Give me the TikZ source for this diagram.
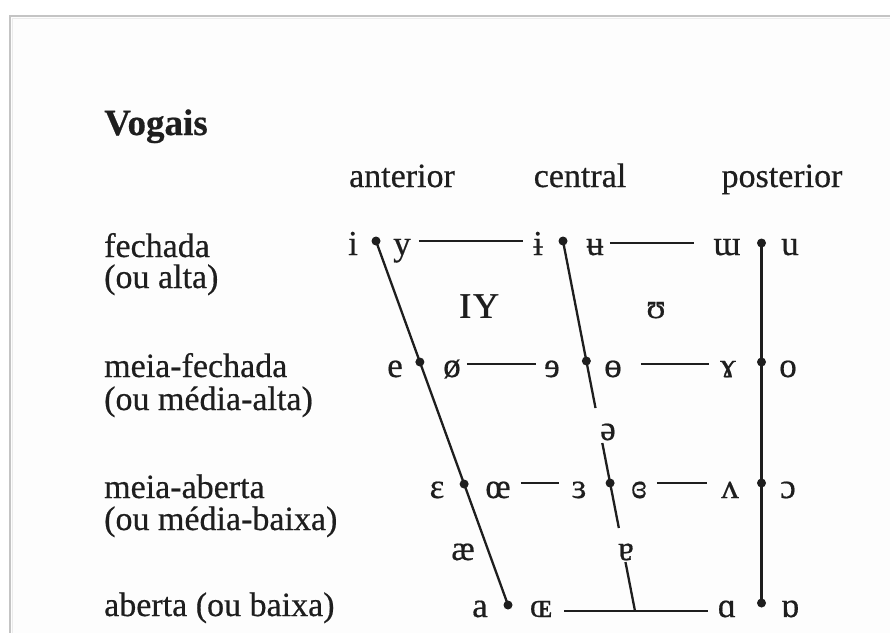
\documentclass[tikz,border=0pt]{standalone}
\usepackage{fontspec}
\setmainfont{Liberation Serif}[FakeBold=0.5]
\newfontfamily\ipalight{Liberation Serif}
\usetikzlibrary{calc}
\definecolor{ink}{HTML}{1E1E1E}
\definecolor{framegray}{HTML}{C4C4C4}
\definecolor{paper}{HTML}{FDFDFD}
\begin{document}
\begin{tikzpicture}[x=1pt,y=-1pt,
  lbl/.style={font=\fontsize{34}{34}\selectfont, text=ink, anchor=base west, inner sep=0pt},
  hdr/.style={font=\fontsize{34}{34}\selectfont, text=ink, anchor=base, inner sep=0pt},
  v/.style={font=\fontsize{35}{35}\selectfont, text=ink, anchor=base, inner xsep=0pt, inner ysep=0pt},
  dot/.style={circle, fill=ink, inner sep=0pt, minimum size=9pt},
  ln/.style={draw=ink, line width=2.3pt},
  hl/.style={draw=ink, line width=2.2pt},
]
\useasboundingbox (0,0) rectangle (890,632);
\begin{scope}
\clip (0,0) rectangle (890,632);
\fill[white] (0,0) rectangle (890,632);
\fill[paper] (10,16) rectangle (900,650);
\draw[black!8, line width=1.5pt] (12.5,650) -- (12.5,18.5) -- (900,18.5);
\draw[framegray, line width=2pt] (10,650) -- (10,16) -- (900,16);
\end{scope}

% title and headers
\node[lbl, font=\fontsize{37}{37}\selectfont\bfseries] (title) at (104,135) {Vogais};
\node[hdr] (hant) at (402,187) {anterior};
\node[hdr] (hcen) at (580,187) {central};
\node[hdr] (hpos) at (782,187) {posterior};

% row labels
\node[lbl] (r1a) at (104,257) {fechada};
\node[lbl] (r1b) at (104,288) {(ou alta)};
\node[lbl] (r2a) at (104,377) {meia-fechada};
\node[lbl] (r2b) at (104,410) {(ou média-alta)};
\node[lbl] (r3a) at (104,498) {meia-aberta};
\node[lbl] (r3b) at (104,530) {(ou média-baixa)};
\node[lbl] (r4a) at (104,616) {aberta (ou baixa)};

% dots
\node[dot] (L1) at (376,241) {};
\node[dot] (L4) at (508,605) {};
\node[dot] (L2) at ($(L1)!0.3324!(L4)$) {};
\node[dot] (L3) at ($(L1)!0.6676!(L4)$) {};
\node[dot] (C1) at (563,241) {};
\coordinate (Cb) at (635,611);
\node[dot] (C2) at ($(C1)!0.3243!(Cb)$) {};
\node[dot] (C3) at ($(C1)!0.6541!(Cb)$) {};
\node[dot] (R1) at (761.5,243) {};
\node[dot] (R2) at (761.5,362) {};
\node[dot] (R3) at (761.5,483) {};
\node[dot] (R4) at (761.5,603) {};

% vowels row 1
\node[v] (vi) at (353,255) {i};
\node[v] (vy) at (402,255) {y};
\node[v] (vbi) at (538,255) {ɨ};
\node[v] (vbu) at (595,255) {ʉ};
\node[v] (vmw) at (727,255) {ɯ};
\node[v] (vu) at (790,255) {u};
% row 2
\node[v] (ve) at (395,377) {e};
\node[v] (voe) at (452,377) {ø};
\node[v] (vre) at (552,377) {ɘ};
\node[v] (vbo) at (613,377) {ɵ};
\node[v] (vga) at (728,377) {ɤ};
\node[v] (vo) at (788,377) {o};
% row 3
\node[v] (veps) at (437,498) {ɛ};
\node[v] (voel) at (498,498) {œ};
\node[v] (vrep) at (579,498) {ɜ};
\node[v] (vcre) at (639,498) {ɞ};
\node[v] (vwv) at (730,498) {ʌ};
\node[v] (vop) at (788,498) {ɔ};
% row 4
\node[v] (va) at (480,617) {a};
\node[v] (voec) at (541,617) {ɶ};
\node[v] (vsa) at (727,617) {ɑ};
\node[v] (vta) at (790,617) {ɒ};
% in-between
\node[v, font=\fontsize{52}{52}\selectfont\ipalight] (vIY) at (479,318) {ɪʏ};
\node[v] (vU) at (656,318) {ʊ};
\node[v] (vschwa) at (608,440) {ə};
\node[v] (vae) at (463,560) {æ};
\node[v] (vtu) at (626,560) {ɐ};

% slanted and vertical lines
\draw[ln] (L1.center) -- (L4.center);
\draw[ln] (C1.center) -- ($(C1)!0.4514!(Cb)$);
\draw[ln] ($(C1)!0.5459!(Cb)$) -- ($(C1)!0.7757!(Cb)$);
\draw[ln] ($(C1)!0.8676!(Cb)$) -- (Cb);
\draw[ln] (R1.center) -- (R4.center);

% horizontal lines
\draw[hl] (vy.east |- 0,241) ++(8,0) -- ($(vbi.west |- 0,241)+(-10,0)$);
\draw[hl] (vbu.east |- 0,243) ++(6,0) -- ($(vmw.west |- 0,243)+(-19,0)$);
\draw[hl] (voe.east |- 0,364) ++(6,0) -- ($(vre.west |- 0,364)+(-8,0)$);
\draw[hl] (vbo.east |- 0,364) ++(19,0) -- ($(vga.west |- 0,364)+(-11,0)$);
\draw[hl] (voel.east |- 0,483) ++(10,0) -- ($(vrep.west |- 0,483)+(-12,0)$);
\draw[hl] (vcre.east |- 0,483) ++(10,0) -- ($(vwv.west |- 0,483)+(-14,0)$);
\draw[hl] (voec.east |- 0,611) ++(12,0) -- ($(vsa.west |- 0,611)+(-10,0)$);
\end{tikzpicture}
\end{document}
